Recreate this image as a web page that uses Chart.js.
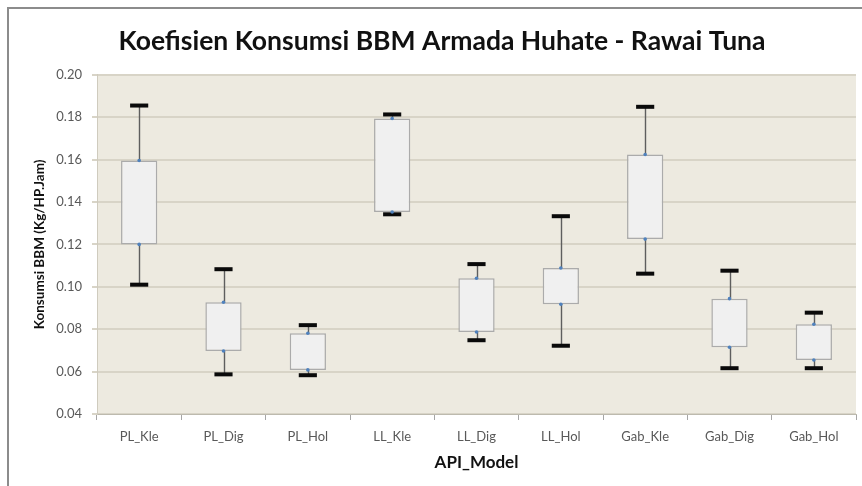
<!DOCTYPE html>
<html>
<head>
<meta charset="utf-8">
<script src="https://cdn.jsdelivr.net/npm/chart.js@4/dist/chart.umd.min.js"></script>
<style>
html,body{margin:0;padding:0;background:#fff;}
#wrap{width:862px;height:486px;}
</style>
</head>
<body>
<div id="wrap"><canvas id="c" width="862" height="486"></canvas></div>
<script>
const categories = ['PL_Kle','PL_Dig','PL_Hol','LL_Kle','LL_Dig','LL_Hol','Gab_Kle','Gab_Dig','Gab_Hol'];
const maxValues = [0.1855, 0.1083, 0.0819, 0.1813, 0.1107, 0.1333, 0.1849, 0.1076, 0.0878];
const q3Values  = [0.1596, 0.0927, 0.0781, 0.1794, 0.1040, 0.1089, 0.1624, 0.0944, 0.0823];
const q1Values  = [0.1200, 0.0697, 0.0608, 0.1353, 0.0787, 0.0918, 0.1225, 0.0715, 0.0655];
const minValues = [0.1010, 0.0587, 0.0583, 0.1342, 0.0748, 0.0722, 0.1062, 0.0616, 0.0616];
const yTicks = [0.04, 0.06, 0.08, 0.10, 0.12, 0.14, 0.16, 0.18, 0.20];

const chartTitle = 'Koefisien Konsumsi BBM Armada Huhate - Rawai Tuna';
const xTitle = 'API_Model';
const yTitle = 'Konsumsi BBM (Kg/HP.Jam)';

const FONT = 'Lato, "Open Sans", "DejaVu Sans", sans-serif';

const bgPlugin = {
  id: 'bg',
  beforeDraw(chart) {
    const {ctx, chartArea: a} = chart;
    ctx.save();
    ctx.fillStyle = '#ffffff';
    ctx.fillRect(0, 0, chart.width, chart.height);
    ctx.fillStyle = '#EDEAE0';
    ctx.fillRect(a.left, a.top, a.right - a.left, a.bottom - a.top);
    ctx.strokeStyle = '#8C8C8C';
    ctx.lineWidth = 2;
    ctx.beginPath();
    ctx.moveTo(8, chart.height + 2);
    ctx.lineTo(8, 8);
    ctx.lineTo(chart.width + 2, 8);
    ctx.stroke();
    ctx.restore();
  }
};

const whiskerPlugin = {
  id: 'whiskers',
  beforeDatasetsDraw(chart) {
    const {ctx} = chart;
    const y = chart.scales.y;
    const meta = chart.getDatasetMeta(0);
    ctx.save();
    meta.data.forEach((bar, i) => {
      const x = Math.round(bar.x) + 0.5;
      const yMax = y.getPixelForValue(maxValues[i]);
      const yMin = y.getPixelForValue(minValues[i]);
      const yQ3 = y.getPixelForValue(q3Values[i]);
      const yQ1 = y.getPixelForValue(q1Values[i]);
      ctx.strokeStyle = '#5E5E5E';
      ctx.lineWidth = 1.4;
      ctx.beginPath();
      ctx.moveTo(x, yMax); ctx.lineTo(x, yQ3);
      ctx.moveTo(x, yQ1); ctx.lineTo(x, yMin);
      ctx.stroke();
    });
    ctx.restore();
  },
  afterDatasetsDraw(chart) {
    const {ctx} = chart;
    const y = chart.scales.y;
    const meta = chart.getDatasetMeta(0);
    ctx.save();
    meta.data.forEach((bar, i) => {
      const capW = bar.width * 0.5;
      const yMax = y.getPixelForValue(maxValues[i]);
      const yMin = y.getPixelForValue(minValues[i]);
      ctx.fillStyle = '#0A0A0A';
      ctx.fillRect(bar.x - capW / 2, yMax - 2, capW, 4);
      ctx.fillRect(bar.x - capW / 2, yMin - 2, capW, 4);
    });
    ctx.fillStyle = '#4F81BD';
    meta.data.forEach((bar, i) => {
      [q3Values[i], q1Values[i]].forEach(v => {
        ctx.beginPath();
        ctx.arc(bar.x, y.getPixelForValue(v), 1.8, 0, Math.PI * 2);
        ctx.fill();
      });
    });
    ctx.restore();
  }
};

new Chart(document.getElementById('c'), {
  type: 'bar',
  data: {
    labels: categories,
    datasets: [{
      label: 'box',
      data: categories.map((c, i) => [q1Values[i], q3Values[i]]),
      backgroundColor: '#F0F0F0',
      borderColor: '#ABABAB',
      borderWidth: 1.5,
      borderSkipped: false,
      barPercentage: 0.43,
      categoryPercentage: 1
    }]
  },
  options: {
    responsive: false,
    animation: false,
    layout: { padding: { left: 28, right: 6, top: 0, bottom: 0 } },
    plugins: {
      legend: { display: false },
      tooltip: { enabled: false },
      title: {
        display: true,
        text: chartTitle,
        color: '#111111',
        font: { family: FONT, size: 26.5, weight: 'bold', lineHeight: 1.2 },
        padding: { top: 26, bottom: 17 }
      }
    },
    scales: {
      x: {
        offset: true,
        grid: { display: true, drawOnChartArea: false, offset: true, tickLength: 6, color: '#A6A6A6', lineWidth: 1 },
        border: { display: true, color: '#BDBAAE', width: 1 },
        ticks: { color: '#595959', font: { family: FONT, size: 13 }, padding: 9, maxRotation: 0, autoSkip: false },
        title: { display: true, text: xTitle, color: '#111111', font: { family: FONT, size: 17, weight: 'bold', lineHeight: 1.2 }, padding: { top: 0, bottom: 13 } },
        afterFit(scale) { scale.height = 72; }
      },
      y: {
        min: 0.04,
        max: 0.20,
        afterBuildTicks(scale) { scale.ticks = yTicks.map(v => ({ value: v })); },
        grid: { color: '#D8D4C7', lineWidth: 2, tickLength: 5, drawTicks: true },
        border: { display: true, color: '#CFCBBE', width: 1 },
        ticks: { color: '#595959', font: { family: FONT, size: 13 }, padding: 10, callback: v => Number(v).toFixed(2) },
        title: { display: true, text: yTitle, color: '#111111', font: { family: FONT, size: 13.5, weight: 'bold', lineHeight: 1.2 }, padding: { top: 4, bottom: 0 } },
        afterFit(scale) { scale.width = 69; }
      }
    }
  },
  plugins: [bgPlugin, whiskerPlugin]
});
</script>
</body>
</html>
